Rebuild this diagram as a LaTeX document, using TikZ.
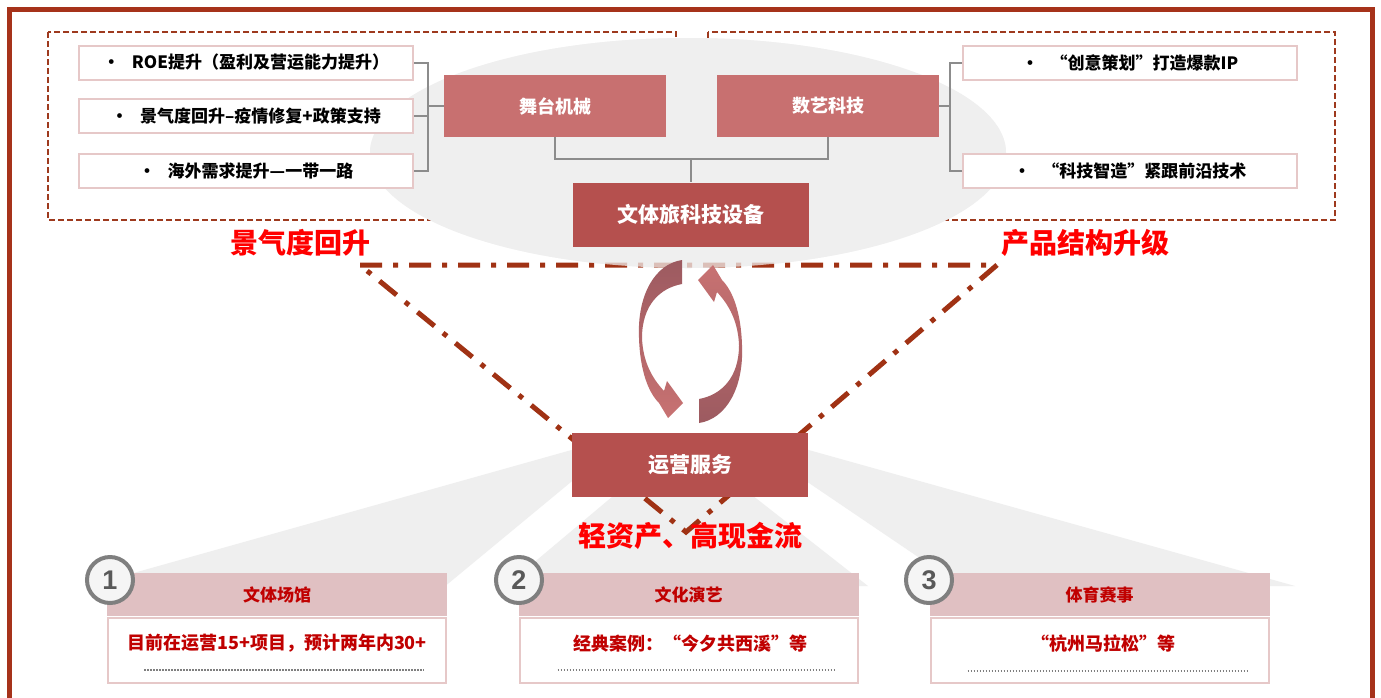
\documentclass[tikz,border=0pt]{standalone}
\usepackage{fontspec}
\newfontfamily\cjk{Noto Sans CJK SC}
\newfontfamily\numf{Liberation Sans}
\definecolor{frameC}{HTML}{A6321A}
\definecolor{dashC}{HTML}{9E3A1E}
\definecolor{ddC}{HTML}{A03214}
\definecolor{boxL}{HTML}{C87070}
\definecolor{boxD}{HTML}{B5504E}
\definecolor{pinkB}{HTML}{E6C8C8}
\definecolor{connG}{HTML}{8C8C8C}
\definecolor{hdrC}{HTML}{E0C0C2}
\definecolor{txtR}{HTML}{C00000}
\definecolor{fanG}{HTML}{EFEFEF}
\definecolor{arrD}{HTML}{9C5A60}
\definecolor{arrL}{HTML}{C87272}
\definecolor{circG}{HTML}{7F7F7F}
\definecolor{digG}{HTML}{595959}
\begin{document}
\begin{tikzpicture}[x=1pt,y=-1pt,
  bullbox/.style={draw=pinkB,line width=2pt,fill=white,minimum width=334pt,minimum height=34pt,inner sep=0pt,text=black,font=\cjk\bfseries\fontsize{17}{20}\selectfont},
  midbox/.style={fill=boxL,minimum width=222pt,minimum height=62pt,inner sep=0pt,text=white,font=\cjk\bfseries\fontsize{18}{20}\selectfont},
  corebox/.style={fill=boxD,minimum width=236pt,minimum height=64pt,inner sep=0pt,text=white,font=\cjk\bfseries\fontsize{21}{24}\selectfont},
  conn/.style={draw=connG,line width=2pt},
  dashrect/.style={draw=dashC,line width=2pt,dash pattern=on 6pt off 3pt},
  dashdotline/.style={draw=ddC,line width=5pt,dash pattern=on 22pt off 11pt on 5pt off 11pt},
  redlab/.style={text=red,font=\cjk\bfseries\fontsize{28}{32}\selectfont,inner sep=0pt},
  hdrbox/.style={fill=hdrC,minimum width=340pt,minimum height=43pt,inner sep=0pt,text=txtR,font=\cjk\bfseries\fontsize{17}{20}\selectfont},
  bodybox/.style={draw=pinkB,line width=2pt,fill=white,minimum width=338pt,minimum height=65pt,inner sep=0pt},
  bodytxt/.style={text=txtR,font=\cjk\bfseries\fontsize{18}{20}\selectfont,inner sep=0pt},
  dotline/.style={draw=circG,line width=1.5pt,dash pattern=on 1.5pt off 1.5pt},
  numcirc/.style={circle,draw=circG,line width=4pt,fill=white!96!black,minimum size=46pt,inner sep=0pt,text=digG,font=\numf\bfseries\fontsize{27}{30}\selectfont}
]
\useasboundingbox (0,0) rectangle (1381,697);
\clip (0,0) rectangle (1381,697);
\fill[white] (0,0) rectangle (1381,697);

% outer frame
\draw[frameC,line width=4.5pt] (9.5,9.5) rectangle (1372.5,740);

% dashed groups
\draw[dashrect] (48,32) rectangle (676,220);
\draw[dashrect] (708,32) rectangle (1335,220);

% gray fans under the bottom boxes
\fill[fanG] (600,442) -- (130,574) -- (130,590) -- (440.5,590) -- (600,458) -- cycle;
\fill[fanG] (644,470) -- (506,586) -- (868,586) -- (720,470) -- cycle;
\fill[fanG] (780,442) -- (1295,586) -- (961,586) -- (780,463.4) -- cycle;

% ellipse
\fill[fanG] (688,153) ellipse [x radius=318, y radius=115];

% dash-dot triangle
\coordinate (dA) at (360,265);
\coordinate (dB) at (997,265);
\coordinate (dC) at (686,532);
\draw[dashdotline] (dA) -- (dB) -- (dC) -- cycle;
\fill[fanG,fill opacity=0.75] (688,153) ellipse [x radius=318, y radius=115];

% top nodes
\node[bullbox] (L1) at (246,62.5) {•\hspace{12pt}ROE提升（盈利及营运能力提升）};
\node[bullbox] (L2) at (246,116) {•\hspace{12pt}景气度回升–疫情修复+政策支持};
\node[bullbox] (L3) at (246,171) {•\hspace{12pt}海外需求提升—一带一路};
\node[bullbox] (R1) at (1130,62.5) {•\hspace{12pt}“创意策划”打造爆款IP};
\node[bullbox] (R2) at (1130,170.5) {•\hspace{12pt}“科技智造”紧跟前沿技术};
\node[midbox] (m1) at (555,106) {舞台机械};
\node[midbox] (m2) at (828,106) {数艺科技};
\node[corebox] (core) at (690.5,214.5) {文体旅科技设备};
\node[corebox] (ops) at (690,465) {运营服务};

% connectors
\coordinate (sL) at (428,106);
\coordinate (sR) at (950,106);
\coordinate (jn) at (690.5,159);
\draw[conn] (L1.east) -| (sL);
\draw[conn] (L3.east) -| (sL);
\draw[conn] (L2.east) -- (L2.east -| sL);
\draw[conn] (sL) -- (m1.west);
\draw[conn] (R1.west) -| (sR);
\draw[conn] (R2.west) -| (sR);
\draw[conn] (m2.east) -- (sR);
\draw[conn] (m1.south) |- (jn) -| (m2.south);
\draw[conn] (jn) -- (core.north);

% circular arrows
\shade[top color=arrD,bottom color=arrL] (682,260) .. controls (655,264) and (637,295) .. (639,338) .. controls (640,370) and (648,392) .. (659,403) -- (668,418) -- (683,403) -- (667,381) -- (664,391) .. controls (652,378) and (643,362) .. (642,338) .. controls (642,305) and (660,288) .. (682,284) -- cycle;
\shade[top color=arrL,bottom color=arrD] (699,423) .. controls (726,419) and (744,388) .. (742,345) .. controls (741,313) and (733,291) .. (722,280) -- (713,265) -- (698,280) -- (714,302) -- (717,292) .. controls (729,305) and (738,321) .. (739,345) .. controls (739,378) and (721,395) .. (699,399) -- cycle;

% red labels
\node[redlab] (lab1) at (300,243) {景气度回升};
\node[redlab] (lab2) at (1085,243) {产品结构升级};
\node[redlab] (lab3) at (690,536) {轻资产、高现金流};

% bottom cards
\node[hdrbox] (h1) at (277,594.5) {文体场馆};
\node[bodybox,anchor=north] (b1) at ([yshift=-1pt]h1.south) {};
\node[bodytxt] (t1) at (277,643) {目前在运营15+项目，预计两年内30+};
\draw[dotline] ([xshift=37pt,yshift=14pt]b1.south west) -- ([xshift=-23pt,yshift=14pt]b1.south east);
\node[numcirc] (c1) at (110,580) {1};

\node[hdrbox] (h2) at (688.5,594.5) {文化演艺};
\node[bodybox,anchor=north] (b2) at ([yshift=-1pt]h2.south) {};
\node[bodytxt] (t2) at (690,644) {经典案例：“今夕共西溪”等};
\draw[dotline] ([xshift=39pt,yshift=14pt]b2.south west) -- ([xshift=-23pt,yshift=14pt]b2.south east);
\node[numcirc] (c2) at (519,580) {2};

\node[hdrbox] (h3) at (1099.5,594.5) {体育赛事};
\node[bodybox,anchor=north] (b3) at ([yshift=-1pt]h3.south) {};
\node[bodytxt] (t3) at (1103,644) {“杭州马拉松”等};
\draw[dotline] ([xshift=38pt,yshift=13pt]b3.south west) -- ([xshift=-20pt,yshift=13pt]b3.south east);
\node[numcirc] (c3) at (929,580) {3};
\end{tikzpicture}
\end{document}
